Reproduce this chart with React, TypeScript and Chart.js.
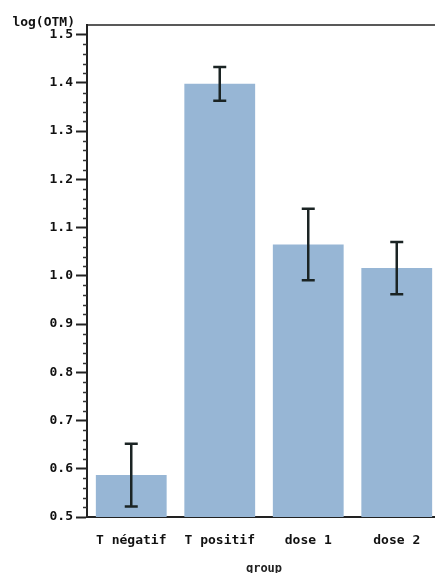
import React, { useEffect, useRef } from "react";
import { Chart, registerables } from "chart.js";

Chart.register(...registerables);

const categories = ["T négatif", "T positif", "dose 1", "dose 2"];
const means = [0.587, 1.398, 1.065, 1.016];
const errors = [0.065, 0.035, 0.074, 0.054];
const yTicks = [0.5, 0.6, 0.7, 0.8, 0.9, 1.0, 1.1, 1.2, 1.3, 1.4, 1.5];
const yMinorStep = 0.02;
const yTitle = "log(OTM)";
const xTitle = "group";

const FONT = "'DejaVu Sans Mono', 'Liberation Mono', monospace";

const decorPlugin = {
  id: "decor",
  afterDatasetsDraw(chart: any) {
    const { ctx, chartArea, scales } = chart;
    const x = scales.x;
    const y = scales.y;
    ctx.save();
    // error bars
    ctx.strokeStyle = "#1b2424";
    ctx.lineWidth = 2.5;
    means.forEach((m, i) => {
      const cx = x.getPixelForValue(i);
      const yt = y.getPixelForValue(m + errors[i]);
      const yb = y.getPixelForValue(m - errors[i]);
      ctx.beginPath();
      ctx.moveTo(cx, yt);
      ctx.lineTo(cx, yb);
      ctx.moveTo(cx - 6.5, yt);
      ctx.lineTo(cx + 6.5, yt);
      ctx.moveTo(cx - 6.5, yb);
      ctx.lineTo(cx + 6.5, yb);
      ctx.stroke();
    });
    // top border
    ctx.strokeStyle = "#222";
    ctx.lineWidth = 1.5;
    ctx.beginPath();
    ctx.moveTo(chartArea.left, chartArea.top);
    ctx.lineTo(chartArea.right + 20, chartArea.top);
    ctx.stroke();
    // minor ticks
    ctx.lineWidth = 1.5;
    ctx.strokeStyle = "#333";
    const min = y.min;
    const max = 1.5;
    for (let v = min; v <= max + 1e-9; v += yMinorStep) {
      const r = Math.round(v * 100) / 100;
      if (Math.abs(r * 10 - Math.round(r * 10)) < 1e-6) continue;
      const py = Math.round(y.getPixelForValue(r)) + 0.5;
      ctx.beginPath();
      ctx.moveTo(chartArea.left - 4, py);
      ctx.lineTo(chartArea.left, py);
      ctx.stroke();
    }
    // y title
    ctx.fillStyle = "#111";
    ctx.font = `bold 13px ${FONT}`;
    ctx.textAlign = "right";
    ctx.textBaseline = "middle";
    ctx.fillText(yTitle, chartArea.left - 12, chartArea.top - 2);
    ctx.restore();
  },
};

export default function App() {
  const ref = useRef<HTMLCanvasElement>(null);
  useEffect(() => {
    if (!ref.current) return;
    const chart = new Chart(ref.current, {
      type: "bar",
      data: {
        labels: categories,
        datasets: [
          {
            data: means,
            backgroundColor: "#97b6d5",
            borderWidth: 0,
            categoryPercentage: 0.8,
            barPercentage: 1.0,
          },
        ],
      },
      options: {
        animation: false,
        responsive: false,
        maintainAspectRatio: false,
        layout: { padding: { left: 0, right: 0, top: 25, bottom: 0 } },
        plugins: { legend: { display: false }, tooltip: { enabled: false } },
        scales: {
          x: {
            grid: { display: false, drawTicks: false },
            border: { display: true, color: "#222", width: 2 },
            ticks: {
              color: "#111",
              font: { family: FONT, size: 13, weight: "bold" },
              padding: 16,
            },
            title: {
              display: true,
              text: xTitle,
              color: "#222",
              font: { family: FONT, size: 12, weight: "bold" },
              padding: { top: 0, bottom: -3 },
            },
            afterFit(scale: any) {
              scale.height = 56;
            },
          },
          y: {
            min: 0.5,
            max: 1.52,
            afterBuildTicks(scale: any) {
              scale.ticks = yTicks.map((v) => ({ value: v }));
            },
            grid: {
              drawOnChartArea: false,
              drawTicks: true,
              tickLength: 11,
              tickWidth: 2,
              tickColor: "#222",
            },
            border: { display: true, color: "#222", width: 2 },
            ticks: {
              color: "#111",
              font: { family: FONT, size: 13, weight: "bold" },
              padding: 3,
              callback: (v: any) => Number(v).toFixed(1),
            },
            afterFit(scale: any) {
              scale.width = 87;
            },
          },
        },
      },
      plugins: [decorPlugin],
    });
    return () => chart.destroy();
  }, []);
  return (
    <div
      style={{
        position: "fixed",
        left: 0,
        top: 0,
        width: 435,
        height: 573,
        overflow: "hidden",
        background: "#fff",
      }}
    >
      <canvas ref={ref} width={441} height={573} style={{ display: "block" }} />
    </div>
  );
}
